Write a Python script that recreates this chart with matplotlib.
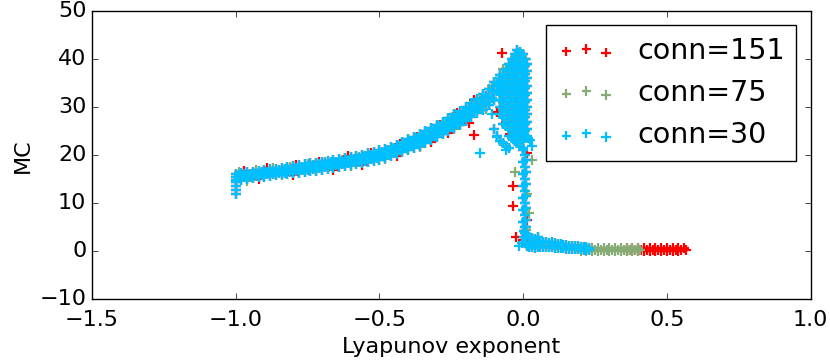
import matplotlib
matplotlib.use('Agg')
import matplotlib.pyplot as plt

plt.style.use('classic')

# main rising branch (lambda, upper / middle / lower edge of the band)
rise_lam = [-1.00, -0.98, -0.96, -0.94, -0.92, -0.90, -0.88, -0.86, -0.84, -0.82,
            -0.80, -0.78, -0.76, -0.74, -0.72, -0.70, -0.68, -0.66, -0.64, -0.62,
            -0.60, -0.58, -0.56, -0.54, -0.52, -0.50, -0.48, -0.46, -0.44, -0.42,
            -0.40, -0.38, -0.36, -0.34, -0.32, -0.30, -0.28, -0.26, -0.24, -0.22,
            -0.20, -0.18, -0.16, -0.14, -0.12, -0.10, -0.08]
rise_mid = [15.5, 15.6, 15.8, 15.9, 16.1, 16.2, 16.4, 16.5, 16.7, 16.8,
            17.0, 17.2, 17.3, 17.5, 17.6, 17.8, 18.0, 18.2, 18.4, 18.6,
            18.8, 19.0, 19.2, 19.5, 19.7, 20.0, 20.4, 20.8, 21.2, 21.7,
            22.2, 22.7, 23.2, 23.8, 24.4, 25.0, 25.7, 26.4, 27.1, 27.8,
            28.6, 29.4, 30.2, 31.1, 32.2, 33.4, 34.8]
rise_hi = [16.2, 16.3, 16.5, 16.6, 16.8, 16.9, 17.1, 17.2, 17.4, 17.5,
           17.7, 18.0, 18.1, 18.3, 18.4, 18.6, 18.8, 19.0, 19.2, 19.4,
           19.7, 19.9, 20.1, 20.4, 20.6, 21.0, 21.4, 21.8, 22.2, 22.7,
           23.3, 23.8, 24.4, 25.0, 25.6, 26.3, 27.0, 27.7, 28.5, 29.2,
           30.0, 30.9, 31.7, 32.7, 33.9, 35.2, 36.7]
rise_lo = [14.8, 14.9, 15.1, 15.2, 15.4, 15.5, 15.7, 15.8, 16.0, 16.1,
           16.3, 16.4, 16.5, 16.7, 16.8, 17.0, 17.2, 17.4, 17.6, 17.8,
           17.9, 18.1, 18.3, 18.6, 18.8, 19.0, 19.4, 19.8, 20.2, 20.7,
           21.1, 21.6, 22.0, 22.6, 23.2, 23.7, 24.4, 25.1, 25.7, 26.4,
           27.2, 27.9, 28.7, 29.5, 30.5, 31.6, 32.9]

# in-between positions of the same band
rise_lam2 = [-0.99, -0.97, -0.95, -0.93, -0.91, -0.89, -0.87, -0.85, -0.83, -0.81,
             -0.79, -0.77, -0.75, -0.73, -0.71, -0.69, -0.67, -0.65, -0.63, -0.61,
             -0.59, -0.57, -0.55, -0.53, -0.51, -0.49, -0.47, -0.45, -0.43, -0.41,
             -0.39, -0.37, -0.35, -0.33, -0.31, -0.29, -0.27, -0.25, -0.23, -0.21,
             -0.19, -0.17, -0.15, -0.13, -0.11, -0.09]
rise_hi2 = [15.9, 16.0, 16.2, 16.3, 16.5, 16.6, 16.8, 16.9, 17.1, 17.2,
            17.4, 17.6, 17.8, 17.9, 18.1, 18.3, 18.5, 18.7, 18.9, 19.1,
            19.3, 19.5, 19.8, 20.0, 20.3, 20.6, 21.1, 21.5, 21.9, 22.4,
            23.0, 23.5, 24.0, 24.6, 25.3, 26.0, 26.7, 27.4, 28.1, 28.9,
            29.7, 30.5, 31.4, 32.4, 33.6, 35.0]
rise_lo2 = [15.2, 15.4, 15.5, 15.7, 15.8, 16.0, 16.1, 16.3, 16.4, 16.6,
            16.8, 16.9, 17.0, 17.2, 17.3, 17.5, 17.7, 17.9, 18.1, 18.3,
            18.5, 18.7, 18.9, 19.2, 19.4, 19.8, 20.1, 20.5, 21.0, 21.5,
            21.9, 22.4, 23.0, 23.5, 24.1, 24.7, 25.4, 26.1, 26.8, 27.5,
            28.3, 29.1, 29.9, 30.9, 32.0, 33.3]

# column at lambda = -1
col_lam = [-1.0, -1.0, -1.0, -1.0]
col_mc = [12.0, 12.8, 13.6, 14.4]

# peak blob
peak_lam = [-0.08, -0.08, -0.08, -0.08, -0.08, -0.08,
            -0.07, -0.07, -0.07, -0.07, -0.07, -0.07, -0.07, -0.07,
            -0.06, -0.06, -0.06, -0.06, -0.06, -0.06, -0.06, -0.06, -0.06,
            -0.05, -0.05, -0.05, -0.05, -0.05, -0.05, -0.05, -0.05, -0.05, -0.05, -0.05,
            -0.04, -0.04, -0.04, -0.04, -0.04, -0.04, -0.04, -0.04, -0.04, -0.04, -0.04, -0.04,
            -0.03, -0.03, -0.03, -0.03, -0.03, -0.03, -0.03, -0.03, -0.03, -0.03, -0.03, -0.03, -0.03,
            -0.02, -0.02, -0.02, -0.02, -0.02, -0.02, -0.02, -0.02, -0.02, -0.02, -0.02, -0.02, -0.02, -0.02,
            -0.01, -0.01, -0.01, -0.01, -0.01, -0.01, -0.01, -0.01, -0.01, -0.01, -0.01, -0.01, -0.01, -0.01,
            0.00, 0.00, 0.00, 0.00, 0.00, 0.00, 0.00, 0.00, 0.00, 0.00, 0.00, 0.00, 0.00, 0.00,
            0.006, 0.006, 0.006, 0.006, 0.006, 0.006, 0.006, 0.006, 0.006, 0.006, 0.006, 0.006,
            0.012, 0.012, 0.012, 0.012, 0.012, 0.012, 0.012, 0.012, 0.012, 0.012, 0.012,
            -0.10, -0.09, -0.08, -0.07, -0.06, -0.05]
peak_mc = [36.0, 34.5, 33.0, 31.5, 30.0, 28.5,
           37.0, 35.5, 34.0, 32.5, 31.0, 29.5, 28.0, 26.5,
           38.0, 36.5, 35.0, 33.5, 32.0, 30.5, 29.0, 27.5, 26.0,
           39.0, 37.5, 36.0, 34.5, 33.0, 31.5, 30.0, 28.5, 27.0, 25.5, 24.0,
           40.0, 38.5, 37.0, 35.5, 34.0, 32.5, 31.0, 29.5, 28.0, 26.5, 25.0, 23.5,
           41.0, 39.5, 38.0, 36.5, 35.0, 33.5, 32.0, 30.5, 29.0, 27.5, 26.0, 24.5, 23.0,
           42.0, 40.5, 39.0, 37.5, 36.0, 34.5, 33.0, 31.5, 30.0, 28.5, 27.0, 25.5, 24.0, 22.5,
           41.5, 40.0, 38.5, 37.0, 35.5, 34.0, 32.5, 31.0, 29.5, 28.0, 26.5, 25.0, 23.5, 22.0,
           41.0, 39.5, 38.0, 36.5, 35.0, 33.5, 32.0, 30.5, 29.0, 27.5, 26.0, 24.5, 23.0, 21.5,
           40.0, 38.5, 37.0, 35.5, 34.0, 32.5, 31.0, 29.5, 28.0, 26.5, 25.0, 23.5,
           39.0, 37.5, 36.0, 34.5, 33.0, 31.5, 30.0, 28.5, 27.0, 25.5, 24.0,
           25.5, 24.0, 23.0, 22.5, 22.0, 21.5]

# steep drop just right of zero
drop_lam = [0.0, 0.005, 0.0, 0.005, 0.0, 0.005, 0.0, 0.005, 0.0, 0.005, 0.0, 0.005,
            0.0, 0.005, 0.002, 0.008, 0.004, 0.01, 0.008, 0.012,
            0.01, 0.01, 0.01, 0.01, 0.01, 0.01, 0.01]
drop_mc = [21.0, 20.0, 18.5, 17.5, 16.0, 15.0, 13.5, 12.5, 11.0, 10.0, 8.5, 7.5,
           6.0, 5.0, 4.2, 3.8, 3.0, 3.5, 1.8, 1.0,
           19.0, 16.5, 14.0, 11.5, 9.0, 6.5, 5.0]

# tail of blue (conn=30)
tail30_lam = [0.01, 0.02, 0.02, 0.02, 0.03, 0.03, 0.03, 0.04, 0.04, 0.04, 0.05, 0.05, 0.05,
              0.06, 0.06, 0.07, 0.07, 0.08, 0.08, 0.09, 0.09, 0.10, 0.10, 0.11, 0.11,
              0.12, 0.12, 0.13, 0.13, 0.14, 0.14, 0.15, 0.15, 0.16, 0.16, 0.17, 0.17,
              0.18, 0.18, 0.19, 0.19, 0.20, 0.20, 0.21, 0.21, 0.22, 0.22, 0.23, 0.23]
tail30_mc = [2.5, 3.0, 1.9, 0.9, 2.8, 1.7, 0.8, 2.6, 1.5, 0.7, 3.0, 2.0, 0.9,
             2.1, 0.9, 2.0, 0.8, 1.9, 0.8, 1.8, 0.8, 1.9, 0.8, 1.7, 0.7,
             1.6, 0.7, 1.5, 0.6, 1.4, 0.6, 1.3, 0.5, 1.2, 0.5, 1.1, 0.5,
             1.0, 0.4, 1.0, 0.4, 0.9, 0.4, 0.8, 0.3, 0.8, 0.3, 0.7, 0.3]

# stray blue points
stray30_lam = [-0.15, 0.025, -0.06, -0.09, 0.018, -0.013, -0.03, 0.03, -0.11, -0.005]
stray30_mc = [20.5, 23.2, 21.0, 23.9, 23.6, 1.0, 23.0, 22.0, 28.5, 1.8]

# green (conn=75)
g_lam = [-0.99, -0.93, -0.87, -0.81, -0.75, -0.69, -0.63, -0.57, -0.51, -0.45,
         -0.39, -0.33, -0.27, -0.21, -0.15, -0.11,
         -0.96, -0.84, -0.72, -0.60, -0.48, -0.36, -0.24, -0.13,
         -0.07, -0.05, -0.03, -0.01, 0.01, -0.04, -0.02,
         0.031, -0.027, 0.015, 0.02, -0.015, 0.01]
g_mc = [16.6, 17.0, 17.3, 17.6, 18.1, 18.6, 19.1, 19.7, 20.3, 21.4,
        23.0, 24.7, 26.6, 29.1, 32.0, 34.5,
        14.7, 15.8, 16.7, 17.8, 19.2, 21.8, 25.5, 29.7,
        38.0, 39.0, 40.5, 41.5, 40.0, 30.0, 27.0,
        19.0, 16.6, 12.0, 8.0, 26.0, 4.5]
g_tail_lam = [0.20, 0.22, 0.24, 0.26, 0.28, 0.30, 0.32, 0.34, 0.36, 0.38, 0.40,
              0.21, 0.23, 0.25, 0.27, 0.29, 0.31, 0.33, 0.35, 0.37, 0.39, 0.405,
              0.20, 0.22, 0.24, 0.26, 0.28, 0.30, 0.32, 0.34, 0.36, 0.38, 0.40]
g_tail_mc = [0.6, 0.6, 0.6, 0.6, 0.6, 0.6, 0.6, 0.6, 0.6, 0.6, 0.6,
             0.3, 0.3, 0.3, 0.3, 0.3, 0.3, 0.3, 0.3, 0.3, 0.3, 0.3,
             0.0, 0.0, 0.0, 0.0, 0.0, 0.0, 0.0, 0.0, 0.0, 0.0, 0.0]

# red (conn=151)
r_lam = [-0.97, -0.89, -0.79, -0.71, -0.61, -0.53, -0.43, -0.37, -0.29, -0.23, -0.17, -0.12,
         -0.92, -0.80, -0.66, -0.56, -0.44, -0.32, -0.26, -0.19,
         -0.073, -0.17, -0.034, -0.035, -0.024, 0.0, -0.09, -0.05, -0.03, -0.01,
         0.015, -0.045, -0.06, 0.012, -0.02, 0.0]
r_mc = [16.7, 17.3, 17.9, 18.7, 19.8, 20.5, 22.4, 23.9, 26.4, 28.7, 31.6, 33.9,
        15.0, 15.9, 16.9, 17.9, 19.8, 22.8, 24.7, 26.7,
        41.3, 24.2, 13.5, 9.4, 3.0, 2.4, 29.0, 34.0, 28.0, 36.0,
        20.5, 24.5, 27.0, 6.5, 37.0, 33.0]
r_tail_lam = [0.36, 0.38, 0.40, 0.42, 0.44, 0.46, 0.48, 0.50, 0.52, 0.54, 0.56,
              0.37, 0.39, 0.41, 0.43, 0.45, 0.47, 0.49, 0.51, 0.53, 0.55,
              0.36, 0.38, 0.40, 0.42, 0.44, 0.46, 0.48, 0.50, 0.52, 0.54, 0.565]
r_tail_mc = [0.6, 0.6, 0.6, 0.6, 0.6, 0.6, 0.6, 0.6, 0.6, 0.6, 0.6,
             0.3, 0.3, 0.3, 0.3, 0.3, 0.3, 0.3, 0.3, 0.3, 0.3,
             0.0, 0.0, 0.0, 0.0, 0.0, 0.0, 0.0, 0.0, 0.0, 0.0, 0.2]

main_lam = rise_lam * 3 + rise_lam2 * 2 + col_lam + peak_lam + drop_lam
main_mc = rise_hi + rise_mid + rise_lo + rise_hi2 + rise_lo2 + col_mc + peak_mc + drop_mc

red_x = main_lam + r_lam + r_tail_lam + tail30_lam
red_y = main_mc + r_mc + r_tail_mc + tail30_mc
green_x = main_lam + g_lam + g_tail_lam + tail30_lam
green_y = main_mc + g_mc + g_tail_mc + tail30_mc
blue_x = main_lam + tail30_lam + stray30_lam
blue_y = main_mc + tail30_mc + stray30_mc

fig = plt.figure(figsize=(8.3, 3.64), dpi=100)
ax = fig.add_axes([0.1108, 0.1777, 0.8659, 0.7915])

ax.scatter(red_x, red_y, marker='+', s=45, c='#ff0000', linewidths=1.6, label='conn=151')
ax.scatter(green_x, green_y, marker='+', s=45, c='#87ab74', linewidths=1.6, label='conn=75')
ax.scatter(blue_x, blue_y, marker='+', s=45, c='#00bfff', linewidths=1.6, label='conn=30')

ax.set_xlim(-1.5, 1.0)
ax.set_ylim(-10, 50)
ax.tick_params(labelsize=16)
ax.tick_params(axis='x', pad=8)
ax.set_xlabel('Lyapunov exponent', fontsize=16)
ax.set_ylabel('MC', fontsize=16)
ax.legend(loc='upper right', fontsize=20.5, scatterpoints=3)

fig.savefig('out.png', dpi=100)
